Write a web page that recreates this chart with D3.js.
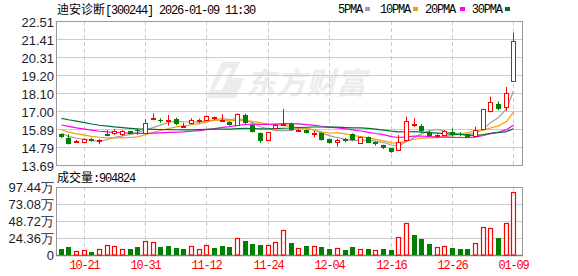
<!DOCTYPE html>
<html>
<head>
<meta charset="utf-8">
<script src="https://cdn.jsdelivr.net/npm/d3@7"></script>
<style>
body { margin: 0; background: #fff; }
</style>
</head>
<body>
<script>
var dates = ["10-16","10-17","10-20","10-21","10-22","10-23","10-24","10-27","10-28","10-29",
	"10-30","10-31","11-03","11-04","11-05","11-06","11-07","11-10","11-11","11-12",
	"11-13","11-14","11-17","11-18","11-19","11-20","11-21","11-24","11-25","11-26",
	"11-27","11-28","12-01","12-02","12-03","12-04","12-05","12-08","12-09","12-10",
	"12-11","12-12","12-15","12-16","12-17","12-18","12-19","12-22","12-23","12-24",
	"12-25","12-26","12-29","12-30","12-31","01-05","01-06","01-07","01-08","01-09"];

var openPrices = [15.59,15.38,15.12,15.14,15.30,15.18,15.63,15.65,15.63,15.77,
	15.85,15.69,16.55,16.48,16.38,16.55,16.08,16.30,16.43,16.48,
	16.58,16.40,16.36,16.18,16.80,16.15,15.68,15.23,16.00,16.18,
	16.24,15.83,15.86,15.62,15.68,15.28,15.10,15.30,15.60,15.03,
	15.43,15.10,14.92,14.72,14.63,15.22,16.17,16.10,15.73,15.47,
	15.52,15.70,15.62,15.58,15.50,15.92,17.03,17.43,17.24,18.87];
var closePrices = [15.40,14.98,15.16,15.28,15.20,15.22,15.50,15.79,15.77,15.63,
	15.78,16.30,16.59,16.44,16.44,16.20,16.12,16.48,16.48,16.70,
	16.62,16.45,16.17,16.81,16.26,15.74,15.19,15.72,16.18,16.22,
	15.84,15.87,15.67,15.66,15.25,15.07,15.25,15.17,15.25,15.40,
	15.07,14.98,14.72,14.50,15.13,16.42,16.23,15.79,15.50,15.52,
	15.82,15.57,15.58,15.44,15.83,17.12,17.55,17.14,18.10,21.30];
var highPrices = [15.62,15.59,15.24,15.34,15.38,15.30,15.85,15.89,15.85,15.80,
	15.95,16.51,16.87,16.57,16.78,16.61,16.30,16.57,16.55,16.74,
	16.67,16.82,16.40,16.87,16.86,16.18,15.70,15.74,16.22,17.14,
	16.30,15.92,15.89,15.80,15.72,15.33,15.30,15.35,15.65,15.45,
	15.45,15.15,14.95,14.75,15.54,16.67,16.57,16.22,15.80,15.60,
	15.85,15.95,15.72,15.62,16.05,17.15,17.89,17.62,18.50,21.82];
var lowPrices = [15.36,14.96,15.07,15.04,15.14,14.98,15.47,15.55,15.50,15.60,
	15.55,15.61,16.45,16.30,16.12,16.15,16.02,16.20,16.26,16.44,
	16.46,16.38,16.12,16.12,16.20,15.70,15.05,15.20,15.98,16.12,
	15.80,15.80,15.64,15.40,15.20,15.02,14.83,15.10,15.20,15.00,
	15.05,14.90,14.68,14.45,14.60,15.15,16.05,15.69,15.45,15.42,
	15.49,15.45,15.46,15.40,15.47,15.88,16.93,17.06,17.03,18.80];

// closes of the 29 sessions before 10-16, needed for the moving averages
var priorCloses = [17.6,17.8,17.9,17.7,17.5,17.3,17.2,17.0,16.9,16.9,
	16.8,16.9,16.7,16.6,16.5,16.4,16.3,16.2,16.2,16.1,
	16.3,16.2,16.0,15.95,15.8,15.9,15.75,15.6,15.6];

// volume in 万手
var volumes = [9,12,5.7,7,4.8,8.6,14.3,12.9,8.6,9,
	12,20,18.6,12,13.3,10.5,9,12.9,8.6,14.3,
	10.5,13.3,12,24.3,20.5,16.2,14.8,14.8,18.6,36.2,
	17.6,10,13.3,12.9,12,9,10.5,7.6,12,8.6,
	9,7,9,7.6,25.8,45.8,29.1,22.4,16.2,11.5,
	12.9,10.5,9,9,17.2,40,38.7,24.8,45.8,90.4824];
// 1 = red (up) volume bar, 0 = green
var volumeUp = [0,0,1,1,0,1,1,1,1,0,0,1,1,0,0,0,0,1,1,1,0,0,0,1,0,0,0,1,1,1,
	0,1,0,1,0,0,1,0,0,1,0,1,0,0,1,1,0,0,0,1,1,0,0,0,1,1,1,0,1,1];

var priceTicks = [13.69,14.79,15.89,17.00,18.10,19.20,20.31,21.41,22.51];
var volumeTicks = [0,24.36,48.72,73.08,97.44];
var volumeTickLabels = ["0","24.36万","48.72万","73.08万","97.44万"];
var dateTicks = ["10-21","10-31","11-12","11-24","12-04","12-16","12-26","01-09"];
var maPeriods = [5,10,20,30];
var maNames = ["5PMA","10PMA","20PMA","30PMA"];
var maColors = ["#a0a0a0","#f2a100","#ff00ff","#006f2e"];

var RED = "#ff0000", GREEN = "#008000";
var left = 56, right = 522;

var svg = d3.select("body").append("svg").attr("width", 578).attr("height", 276)
	.style("font-family", "'Liberation Sans', Arial, sans-serif");

var x = d3.scaleBand().domain(dates).range([56.7, 517.2]).padding(0);
var cx = function(d){ return Math.round(x(d) + x.bandwidth() / 2); };
var y = d3.scaleLinear().domain([13.69, 22.51]).range([165.3, 21.3]);
var yv = d3.scaleLinear().domain([0, 97.44]).range([255, 187]);

// watermark
var wm = svg.append("g").attr("fill", "#ececec");
wm.append("path").attr("d", "M206,98 L222,62 L240,62 L232,78 L244,78 L236,98 Z M214,90 L226,68 L232,68 L222,90 Z")
	.attr("fill-rule", "evenodd");
wm.append("text").attr("x", 246).attr("y", 94).style("font-family", "'Noto Sans CJK SC'")
	.style("font-size", "30px").style("font-weight", "bold").style("font-style", "italic")
	.text("东方财富");

// price grid
svg.append("g").selectAll("line").data(priceTicks.slice(1, -1)).enter().append("line")
	.attr("x1", left).attr("x2", right)
	.attr("y1", function(d){ return Math.round(y(d)) + 0.5; })
	.attr("y2", function(d){ return Math.round(y(d)) + 0.5; })
	.attr("stroke", "#cccccc");
svg.append("g").selectAll("line").data(dateTicks).enter().append("line")
	.attr("x1", function(d){ return cx(d) + 0.5; }).attr("x2", function(d){ return cx(d) + 0.5; })
	.attr("y1", 21).attr("y2", 165)
	.attr("stroke", "#cccccc").attr("stroke-dasharray", "4,3");
svg.append("rect").attr("x", left + 0.5).attr("y", 21.5).attr("width", right - left).attr("height", 144)
	.attr("fill", "none").attr("stroke", "#999999");

// volume grid
svg.append("g").selectAll("line").data(volumeTicks.slice(1, -1)).enter().append("line")
	.attr("x1", left).attr("x2", right)
	.attr("y1", function(d){ return Math.round(yv(d)) + 0.5; })
	.attr("y2", function(d){ return Math.round(yv(d)) + 0.5; })
	.attr("stroke", "#cccccc");
svg.append("g").selectAll("line").data(dateTicks).enter().append("line")
	.attr("x1", function(d){ return cx(d) + 0.5; }).attr("x2", function(d){ return cx(d) + 0.5; })
	.attr("y1", 187).attr("y2", 255)
	.attr("stroke", "#cccccc").attr("stroke-dasharray", "4,3");
svg.append("rect").attr("x", left + 0.5).attr("y", 187.5).attr("width", right - left).attr("height", 68)
	.attr("fill", "none").attr("stroke", "#999999");
svg.append("line").attr("x1", left).attr("x2", right + 1).attr("y1", 255.5).attr("y2", 255.5)
	.attr("stroke", "#808080").attr("stroke-width", 1.5);

// price axis labels
svg.append("g").selectAll("text").data(priceTicks).enter().append("text")
	.attr("x", 54).attr("y", function(d){ return y(d) + 5.5; })
	.attr("text-anchor", "end").attr("fill", "#1c1c2c").style("font-size", "13px")
	.text(function(d){ return d.toFixed(2); });

// volume axis labels
svg.append("g").selectAll("text").data(volumeTicks).enter().append("text")
	.attr("x", 54).attr("y", function(d){ return yv(d) + 5; })
	.attr("text-anchor", "end").attr("fill", "#1c1c2c").style("font-size", "13px")
	.text(function(d, i){ return volumeTickLabels[i]; });

// date labels
svg.append("g").selectAll("text").data(dateTicks).enter().append("text")
	.attr("x", function(d){ return cx(d) + 0.5; }).attr("y", 269)
	.attr("text-anchor", "middle").attr("fill", RED)
	.style("font-family", "'Liberation Mono', monospace").style("font-size", "12px")
	.style("letter-spacing", "-1.2px")
	.text(function(d){ return d; });

// moving averages
var allCloses = priorCloses.concat(closePrices);
var offset = priorCloses.length;
maPeriods.forEach(function(p, k){
	var vals = closePrices.map(function(c, i){
		var s = 0;
		for (var j = offset + i - p + 1; j <= offset + i; j++){ s += allCloses[j]; }
		return s / p;
	});
	var line = d3.line()
		.x(function(d, i){ return cx(dates[i]) + 0.5; })
		.y(function(d){ return y(d); });
	svg.append("path").datum(vals).attr("d", line)
		.attr("fill", "none").attr("stroke", maColors[k]).attr("stroke-width", 1.2);
});

// candles
var candles = svg.append("g").selectAll("g").data(dates).enter().append("g");
candles.append("line")
	.attr("x1", function(d){ return cx(d) + 0.5; }).attr("x2", function(d){ return cx(d) + 0.5; })
	.attr("y1", function(d, i){ return y(highPrices[i]); })
	.attr("y2", function(d, i){ return y(lowPrices[i]); })
	.attr("stroke", function(d, i){ return closePrices[i] >= openPrices[i] ? RED : GREEN; });
candles.append("rect")
	.attr("x", function(d, i){ return closePrices[i] >= openPrices[i] ? cx(d) - 1.5 : cx(d) - 2; })
	.attr("width", function(d, i){ return closePrices[i] >= openPrices[i] ? 4 : 5; })
	.attr("y", function(d, i){
		var t = Math.round(y(Math.max(openPrices[i], closePrices[i])));
		return closePrices[i] >= openPrices[i] ? t + 0.5 : t;
	})
	.attr("height", function(d, i){
		var t = Math.round(y(Math.max(openPrices[i], closePrices[i])));
		var b = Math.round(y(Math.min(openPrices[i], closePrices[i])));
		return Math.max(b - t, 1);
	})
	.attr("fill", function(d, i){ return closePrices[i] >= openPrices[i] ? "#ffffff" : GREEN; })
	.attr("stroke", function(d, i){ return closePrices[i] >= openPrices[i] ? RED : "none"; });

// volume bars
svg.append("g").selectAll("rect").data(dates).enter().append("rect")
	.attr("x", function(d, i){ return volumeUp[i] ? cx(d) - 1.5 : cx(d) - 2; })
	.attr("width", function(d, i){ return volumeUp[i] ? 4 : 5; })
	.attr("y", function(d, i){ return Math.round(yv(volumes[i])) + (volumeUp[i] ? 0.5 : 0); })
	.attr("height", function(d, i){ return 255 - Math.round(yv(volumes[i])) - (volumeUp[i] ? 0.5 : 0); })
	.attr("fill", function(d, i){ return volumeUp[i] ? "#ffffff" : GREEN; })
	.attr("stroke", function(d, i){ return volumeUp[i] ? RED : "none"; })
	.attr("stroke-width", 1.2);

// title
var title = svg.append("text").attr("x", 57).attr("y", 14).attr("fill", "#000").style("font-size", "12px");
title.append("tspan").style("font-family", "'Noto Sans CJK SC'").text("迪安诊断");
title.append("tspan").style("font-family", "'Liberation Mono', monospace").style("letter-spacing", "-1.2px")
	.text("[300244] 2026-01-09 11:30");

// volume caption
var vcap = svg.append("text").attr("x", 57).attr("y", 182).attr("fill", "#000").style("font-size", "12px");
vcap.append("tspan").style("font-family", "'Noto Sans CJK SC'").text("成交量");
vcap.append("tspan").style("font-family", "'Liberation Mono', monospace").style("letter-spacing", "-1.2px")
	.text(":" + Math.round(volumes[volumes.length - 1] * 10000));

// legend
var legendX = [338, 380, 425, 471.7];
var legendSq = [365, 413, 460, 505];
var legend = svg.append("g").selectAll("g").data(maNames).enter().append("g");
legend.append("text").attr("x", function(d, i){ return legendX[i]; }).attr("y", 13)
	.attr("fill", "#000").style("font-family", "'Liberation Mono', monospace")
	.style("font-size", "12px").style("letter-spacing", "-1.2px")
	.text(function(d){ return d; });
legend.append("rect").attr("x", function(d, i){ return legendSq[i]; }).attr("y", 7)
	.attr("width", 5).attr("height", 4)
	.attr("fill", function(d, i){ return maColors[i]; });
</script>
</body>
</html>
